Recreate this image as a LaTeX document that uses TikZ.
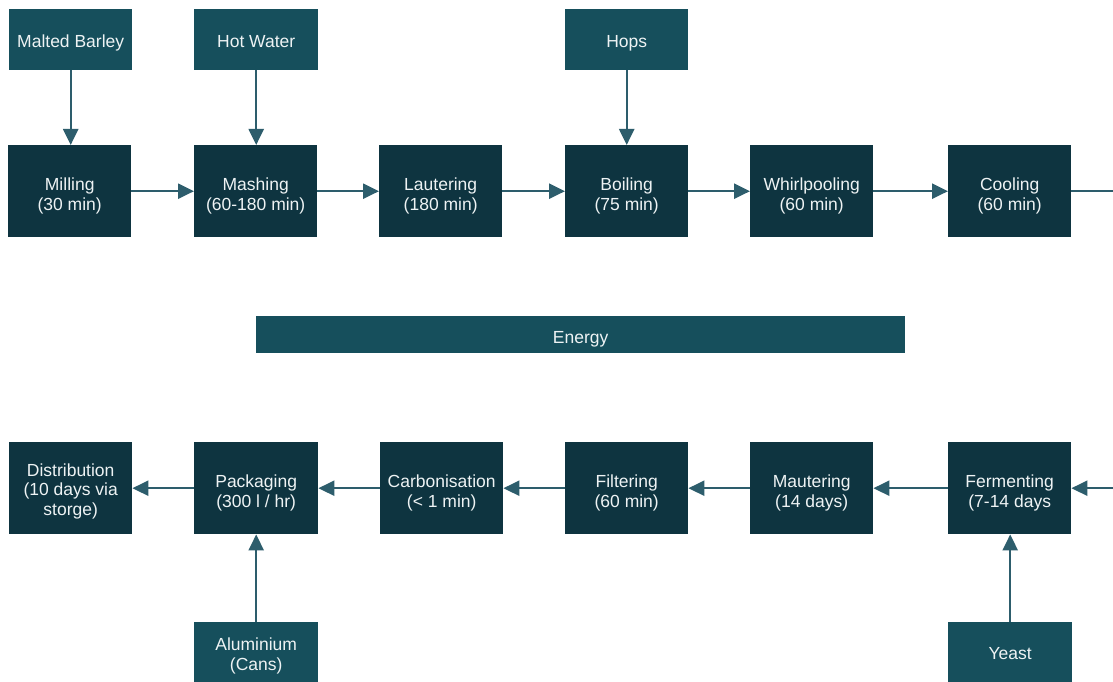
\documentclass[tikz,border=0pt]{standalone}
\usepackage{fontspec}
\setmainfont{Liberation Sans}
\usetikzlibrary{arrows.meta}
\definecolor{inbox}{HTML}{164F5C}
\definecolor{procbox}{HTML}{0E3440}
\definecolor{flow}{HTML}{2D5D6C}
\definecolor{label}{HTML}{EEF3F4}
\tikzset{
  box/.style={anchor=north west, inner sep=0pt, minimum width=123pt},
  input/.style={box, fill=inbox, minimum height=61pt},
  process/.style={box, fill=procbox, minimum height=92pt},
  % captions are set a little below the middle of their boxes
  txt/.style={text=label, align=center, inner sep=0pt,
    font=\fontsize{17.5}{19.5}\selectfont, yshift=-5pt},
  % one-line captions get a fixed height and depth (shifts add up)
  txtone/.style={txt, text height=12pt, text depth=4pt, yshift=1.5pt},
  flowarrow/.style={draw=flow, line width=2.3pt,
    -{Triangle[length=16pt,width=15pt]}},
  flowline/.style={draw=flow, line width=2.3pt}
}
\begin{document}
\begin{tikzpicture}[x=1pt,y=-1pt]
\useasboundingbox (0,0) rectangle (1113,682);
\clip (0,0) rectangle (1113,682);
\fill[white] (0,0) rectangle (1113,682);

% raw inputs, top row
\node[input, label={[txtone]center:Malted Barley}] (barley) at (9,9) {};
\node[input, minimum width=124pt, label={[txtone]center:Hot Water}] (water) at (194,9) {};
\node[input, label={[txtone]center:Hops}] (hops) at (565,9) {};

% hot side of the brewhouse
\node[process, label={[txt]center:{Milling\\(30 min)}}] (mill) at (8,145) {};
\node[process, label={[txt]center:{Mashing\\(60-180 min)}}] (mash) at (194,145) {};
\node[process, label={[txt]center:{Lautering\\(180 min)}}] (lauter) at (379,145) {};
\node[process, label={[txt]center:{Boiling\\(75 min)}}] (boil) at (565,145) {};
\node[process, label={[txt]center:{Whirlpooling\\(60 min)}}] (whirl) at (750,145) {};
\node[process, label={[txt]center:{Cooling\\(60 min)}}] (cool) at (948,145) {};
\coordinate (outR) at (1120,191);

% energy bar
\node[input, minimum width=649pt, minimum height=37pt,
  label={[txtone, yshift=-1pt]center:Energy}] (energy) at (256,316) {};

% cold side and packaging
\node[process, label={[txt, yshift=2pt]center:{Distribution\\(10 days via\\storge)}}] (dist) at (9,442) {};
\node[process, minimum width=124pt, label={[txt]center:{Packaging\\(300 l / hr)}}] (pack) at (194,442) {};
\node[process, label={[txt]center:{Carbonisation\\(< 1 min)}}] (carb) at (380,442) {};
\node[process, label={[txt]center:{Filtering\\(60 min)}}] (filt) at (565,442) {};
\node[process, label={[txt]center:{Mautering\\(14 days)}}] (maut) at (750,442) {};
\node[process, label={[txt]center:{Fermenting\\(7-14 days}}] (ferm) at (948,442) {};
\coordinate (inR) at (1120,488);

% raw inputs, bottom row
\node[input, minimum width=124pt, minimum height=64pt,
  label={[txt, yshift=3pt]center:{Aluminium\\(Cans)}}] (alu) at (194,622) {};
\node[input, minimum width=124pt, minimum height=64pt,
  label={[txtone, yshift=2pt]center:Yeast}] (yeast) at (948,622) {};

% connectors
\draw[flowarrow] (barley.south) -- (barley.south |- mill.north);
\draw[flowarrow] (water.south) -- (water.south |- mash.north);
\draw[flowarrow] (hops.south) -- (hops.south |- boil.north);
\draw[flowarrow] (mill) -- (mash);
\draw[flowarrow] (mash) -- (lauter);
\draw[flowarrow] (lauter) -- (boil);
\draw[flowarrow] (boil) -- (whirl);
\draw[flowarrow] (whirl) -- (cool);
\draw[flowline] (cool.east) -- (cool.east -| outR);

\draw[flowarrow] (inR |- ferm.east) -- (ferm.east);
\draw[flowarrow] (ferm) -- (maut);
\draw[flowarrow] (maut) -- (filt);
\draw[flowarrow] (filt) -- (carb);
\draw[flowarrow] (carb) -- (pack);
\draw[flowarrow] (pack) -- (dist);
\draw[flowarrow] (alu.north) -- (alu.north |- pack.south);
\draw[flowarrow] (yeast.north) -- (yeast.north |- ferm.south);
\end{tikzpicture}
\end{document}
